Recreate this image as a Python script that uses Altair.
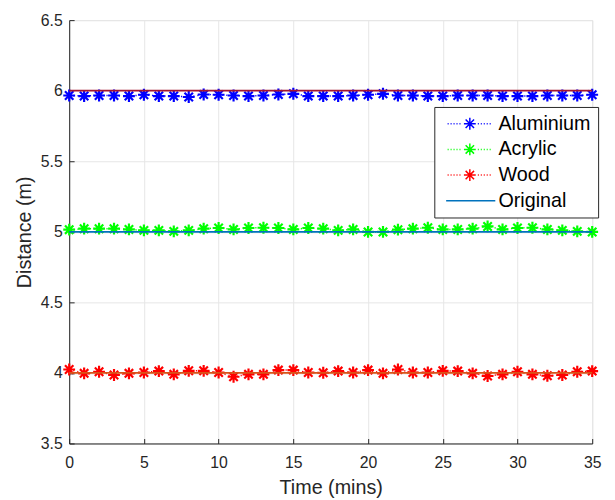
import altair as alt
import pandas as pd

# ---- data ----
minutes = list(range(36))
aluminium = [5.966, 5.962, 5.966, 5.966, 5.962, 5.971, 5.962, 5.962, 5.955, 5.973,
             5.971, 5.966, 5.962, 5.966, 5.973, 5.978, 5.962, 5.962, 5.962, 5.966,
             5.971, 5.978, 5.966, 5.966, 5.962, 5.962, 5.966, 5.966, 5.966, 5.962,
             5.962, 5.962, 5.966, 5.966, 5.966, 5.971]
acrylic = [5.015, 5.022, 5.022, 5.022, 5.017, 5.010, 5.010, 5.003, 5.010, 5.022,
           5.027, 5.017, 5.027, 5.029, 5.027, 5.017, 5.027, 5.022, 5.010, 5.017,
           4.999, 4.999, 5.015, 5.022, 5.029, 5.017, 5.017, 5.022, 5.038, 5.017,
           5.027, 5.029, 5.017, 5.010, 5.003, 4.999]
wood = [4.024, 3.997, 4.008, 3.985, 3.997, 4.003, 4.013, 3.990, 4.015, 4.015,
        4.003, 3.973, 3.990, 3.990, 4.020, 4.020, 4.003, 4.001, 4.013, 4.003,
        4.020, 3.997, 4.024, 4.003, 4.003, 4.015, 4.013, 3.997, 3.978, 3.990,
        4.008, 3.990, 3.980, 3.985, 4.008, 4.013]
series_names = ["Aluminium", "Acrylic", "Wood", "Original"]
series_colors = ["#0000FF", "#00FF00", "#FF0000", "#0072BD"]
original_levels = [6.0, 5.0, 4.0]
original_colors = ["#A2142F", "#0072BD", "#D95319"]
x_ticks = [0, 5, 10, 15, 20, 25, 30, 35]
y_ticks = [3.5, 4.0, 4.5, 5.0, 5.5, 6.0, 6.5]

# ---- tables ----
rows = []
for name, vals in zip(series_names[:3], [aluminium, acrylic, wood]):
    for t, d in zip(minutes, vals):
        rows.append({"series": name, "t": t, "d": d})
meas_df = pd.DataFrame(rows)

orows = []
for lvl, col in zip(original_levels, original_colors):
    for t in minutes:
        orows.append({"series": "Original", "t": t, "d": lvl, "level": str(lvl), "c": col})
orig_df = pd.DataFrame(orows)

all_df = pd.concat([meas_df, orig_df[["series", "t", "d"]]], ignore_index=True)

# ---- marker / legend symbol paths ----
ASTERISK = "M-1,0L1,0M0,-1L0,1M-0.71,-0.71L0.71,0.71M-0.71,0.71L0.71,-0.71"
dots = []
x = -3.75
while x < -1.25:
    dots.append(f"M{x:.2f},0L{x + 0.17:.2f},0")
    x += 0.5
x = 1.35
while x < 3.8:
    dots.append(f"M{x:.2f},0L{x + 0.17:.2f},0")
    x += 0.5
LEG_MEAS = "".join(dots) + ASTERISK
LEG_LINE = "M-4,0L4.3,0"

FONT = "Liberation Sans"
TXT = "#262626"

x_scale = alt.Scale(domain=[0, 35], nice=False)
y_scale = alt.Scale(domain=[3.5, 6.5], nice=False)
color_scale = alt.Scale(domain=series_names, range=series_colors)

main_x = alt.Axis(values=x_ticks, title="Time (mins)", grid=True, gridColor="#E6E6E6",
                  domainColor=TXT, tickSize=0, labelPadding=11, labelFontSize=16,
                  labelFont=FONT, labelColor=TXT, titleFont=FONT, titleFontSize=20,
                  titleFontWeight="normal", titleColor=TXT, titlePadding=8, labelFlush=False)
main_y = alt.Axis(values=y_ticks, format="~g", title="Distance (m)", grid=True,
                  gridColor="#E6E6E6", domainColor=TXT, tickSize=0, labelPadding=7,
                  labelFontSize=16, labelFont=FONT, labelColor=TXT, titleFont=FONT,
                  titleFontSize=20, titleFontWeight="normal", titleColor=TXT,
                  titlePadding=6, labelFlush=False)

tick_x = alt.Axis(orient="top", offset=-429, values=x_ticks, labels=False, domain=False,
                  grid=False, tickSize=5, tickColor=TXT, tickWidth=1, title=None)
tick_y = alt.Axis(orient="right", offset=-530, values=y_ticks, labels=False, domain=False,
                  grid=False, tickSize=5, tickColor=TXT, tickWidth=1, title=None)

base_meas = alt.Chart(meas_df)

meas_line = base_meas.mark_line(strokeDash=[1.2, 3], strokeWidth=1.5).encode(
    x=alt.X("t:Q", scale=x_scale, axis=None),
    y=alt.Y("d:Q", scale=y_scale, axis=None),
    color=alt.Color("series:N", scale=color_scale, legend=None),
)

meas_pts = base_meas.mark_point(shape=ASTERISK, size=144, strokeWidth=2.2, filled=False,
                                opacity=1).encode(
    x=alt.X("t:Q", scale=x_scale, axis=None),
    y=alt.Y("d:Q", scale=y_scale, axis=None),
    color=alt.Color("series:N", scale=color_scale, legend=None),
)

orig_line = alt.Chart(orig_df).mark_line(strokeWidth=1.8).encode(
    x=alt.X("t:Q", scale=x_scale, axis=main_x),
    y=alt.Y("d:Q", scale=y_scale, axis=main_y),
    color=alt.Color("c:N", scale=None),
    detail="level:N",
)

ticks_layer = alt.Chart(orig_df).mark_line(opacity=0).encode(
    x=alt.X("t:Q", scale=x_scale, axis=tick_x),
    y=alt.Y("d:Q", scale=y_scale, axis=tick_y),
    detail="level:N",
)

leg_common = dict(title=None, orient="none", legendX=370, legendY=88, padding=7,
                  symbolOffset=19, labelOffset=19, symbolSize=144, symbolStrokeWidth=1.5,
                  symbolOpacity=1, labelFontSize=20, labelFont=FONT, labelColor="#000000",
                  strokeColor=TXT, fillColor="white", rowPadding=6, cornerRadius=0,
                  labelLimit=300, labelExpr="datum.label + '\u00a0'")

legend_layer = alt.Chart(all_df).mark_point(opacity=0, filled=False).encode(
    x=alt.X("t:Q", scale=x_scale, axis=None),
    y=alt.Y("d:Q", scale=y_scale, axis=None),
    color=alt.Color("series:N", scale=color_scale, legend=alt.Legend(**leg_common)),
    shape=alt.Shape("series:N",
                    scale=alt.Scale(domain=series_names,
                                    range=[LEG_MEAS, LEG_MEAS, LEG_MEAS, LEG_LINE]),
                    legend=alt.Legend(**leg_common)),
)

chart = alt.layer(meas_line, meas_pts, orig_line, ticks_layer, legend_layer).resolve_scale(
    x="independent", y="independent", color="independent", shape="independent"
).resolve_axis(
    x="independent", y="independent"
).resolve_legend(color="independent", shape="independent").properties(
    width=530, height=429, autosize="none",
    padding={"left": 62, "top": 9, "right": 15, "bottom": 55},
).configure_view(stroke=None).configure(background="white")

chart.save("out.html", embed_options={"renderer": "svg", "actions": False})
